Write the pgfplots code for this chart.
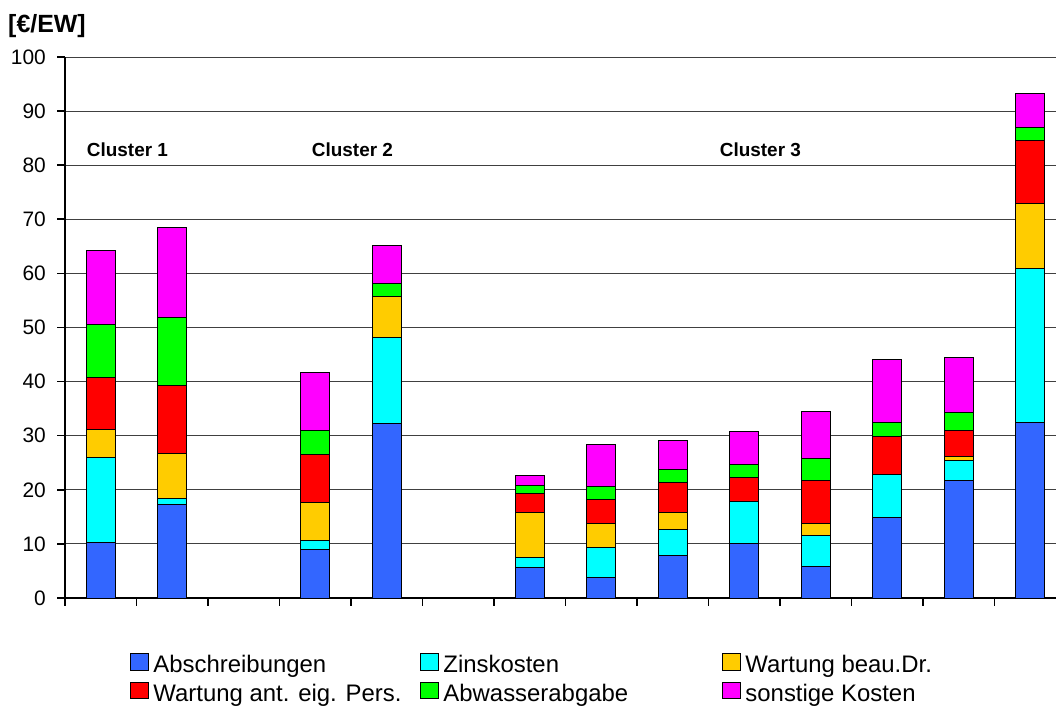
\documentclass[border=0pt]{standalone}
\usepackage{pgfplots}
\pgfplotsset{compat=1.18}
\usepackage{pgfplotstable}
\usepackage{fontspec}
\setmainfont{Liberation Sans}
\definecolor{cBlue}{HTML}{3366FF}
\definecolor{cCyan}{HTML}{00FFFF}
\definecolor{cYel}{HTML}{FFCC00}
\definecolor{cRed}{HTML}{FF0000}
\definecolor{cGreen}{HTML}{00FF00}
\definecolor{cMag}{HTML}{FF00FF}
\pgfplotstableread{
x  a    b    c    d    e    f
0  10.2 15.7 5.3  9.6  9.8  13.7
1  17.2 1.2  8.3  12.5 12.7 16.6
3  9.0  1.6  7.0  9.0  4.3  10.7
4  32.3 15.8 7.6  0.0  2.4  7.1
6  5.7  1.8  8.3  3.6  1.4  1.8
7  3.8  5.5  4.4  4.5  2.4  7.7
8  7.9  4.8  3.1  5.6  2.3  5.5
9  10.1 7.7  0.0  4.5  2.4  6.0
10 5.8  5.7  2.2  8.1  4.0  8.6
11 14.8 8.1  0.0  6.9  2.7  11.6
12 21.8 3.7  0.7  4.8  3.2  10.2
13 32.5 28.4 12.0 11.7 2.3  6.4
}\datatable
\newcommand{\legent}[2]{\makebox[#1][l]{\fontsize{24}{28}\selectfont\rule[-9bp]{0pt}{33.3bp}#2}}
\begin{document}
\begin{tikzpicture}
\useasboundingbox (0,0) rectangle (1056bp,706bp);
\begin{axis}[
  at={(65bp,108bp)}, anchor=south west,
  scale only axis, width=1001bp, height=541bp,
  xmin=-0.5, xmax=13.5, ymin=0, ymax=100,
  clip=false,
  axis lines*=left,
  axis line style={line width=1.6bp},
  ybar stacked, bar width=29bp,
  xtick={-0.5,0.5,...,13.5}, xticklabels={},
  ytick={0,10,...,100},
  tick align=outside, major tick length=8bp,
  tick style={line width=1.6bp, black},
  ymajorgrids, major grid style={line width=0.9bp, black!75},
  /pgf/number format/assume math mode=true,
  tick label style={font=\fontsize{21}{25}\selectfont},
  yticklabel style={inner sep=0pt, xshift=-11bp},
  every axis plot/.append style={draw=black, line width=1bp},
  legend columns=3,
  legend image code/.code={\draw[#1,draw=black,line width=1bp] (0bp,-9.25bp) rectangle (18bp,7.35bp);},
  legend style={draw=none, fill=none, at={(0.0649,-0.0923)}, anchor=north west,
    inner sep=0pt, outer sep=0pt, column sep=0pt, row sep=3bp,
    nodes={inner sep=0pt, outer sep=0pt},
    /tikz/every odd column/.append style={column sep=4.5bp}},
  legend cell align=left,
]
\addplot[fill=cBlue] table[x=x,y=a]{\datatable};
\addplot[fill=cCyan] table[x=x,y=b]{\datatable};
\addplot[fill=cYel] table[x=x,y=c]{\datatable};
\addplot[fill=cRed] table[x=x,y=d]{\datatable};
\addplot[fill=cGreen] table[x=x,y=e]{\datatable};
\addplot[fill=cMag] table[x=x,y=f]{\datatable};
\legend{\legent{266.5bp}{Abschreibungen},\legent{278.5bp}{Zinskosten},\legent{200bp}{Wartung beau.Dr.},\legent{266.5bp}{Wartung ant. eig. Pers.},\legent{278.5bp}{Abwasserabgabe},\legent{200bp}{sonstige Kosten}}
\node[anchor=base west, inner sep=0pt, font=\bfseries\fontsize{19}{23}\selectfont] at (axis cs:-0.196,81.6) {Cluster 1};
\node[anchor=base west, inner sep=0pt, font=\bfseries\fontsize{19}{23}\selectfont] at (axis cs:2.951,81.6) {Cluster 2};
\node[anchor=base west, inner sep=0pt, font=\bfseries\fontsize{19}{23}\selectfont] at (axis cs:8.657,81.6) {Cluster 3};
\node[anchor=base west, inner sep=0pt, font=\bfseries\fontsize{25}{29}\selectfont] at (rel axis cs:-0.0569,1.0444) {[€/EW]};
\end{axis}
\end{tikzpicture}
\end{document}
